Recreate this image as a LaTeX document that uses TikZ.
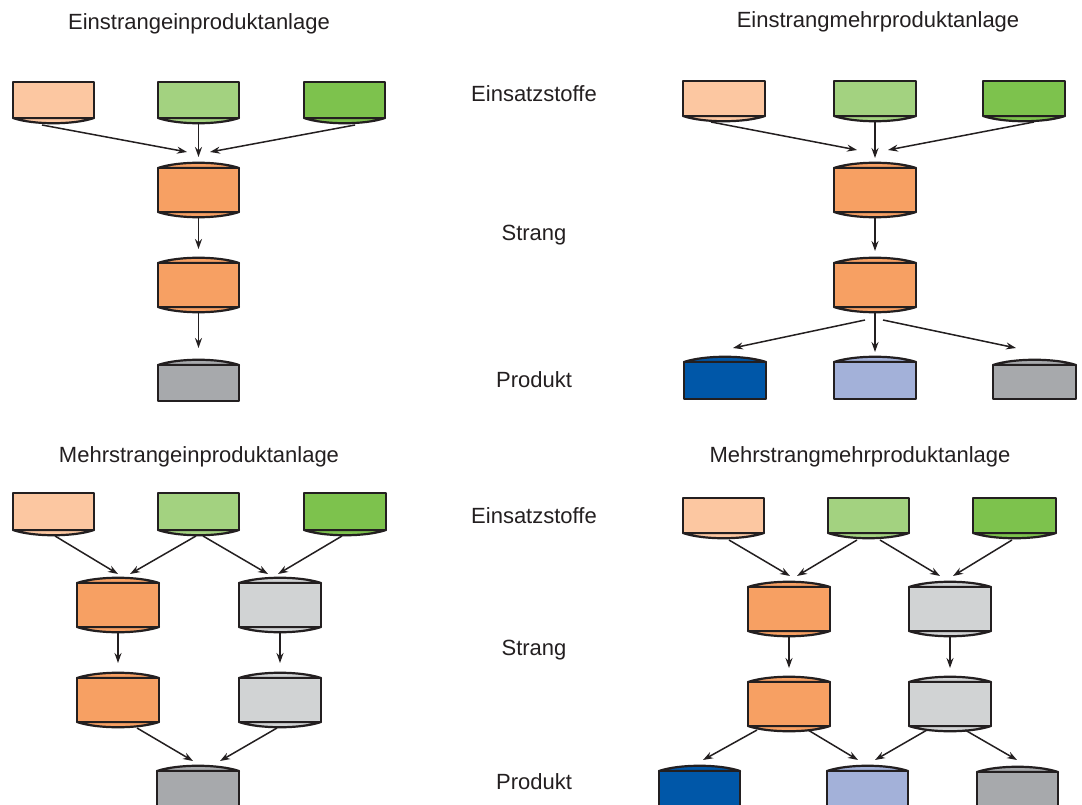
\documentclass[tikz,border=0pt]{standalone}
\usepackage{fontspec}
\setmainfont{Liberation Sans}
\usetikzlibrary{arrows.meta,calc}

\definecolor{ink}{HTML}{231F20}
\definecolor{peach}{HTML}{FCC7A1}
\definecolor{lightgreen}{HTML}{A3D280}
\definecolor{leafgreen}{HTML}{7DC24D}
\definecolor{strangorange}{HTML}{F7A063}
\definecolor{lightgray}{HTML}{D1D3D4}
\definecolor{prodgray}{HTML}{A7A9AC}
\definecolor{darkblue}{HTML}{0057A8}
\definecolor{lightblue}{HTML}{A3B1D9}

% feed tank: box with a curved bottom
% #1 name, #2 left, #3 right, #4 top, #5 bottom, #6 fill
\newcommand\feedtank[6]{%
  \path[tankline, fill=#6] (#2,#5) .. controls ({#2+0.25*(#3-#2)},{#5+7}) and ({#3-0.25*(#3-#2)},{#5+7}) .. (#3,#5) -- cycle;
  \node[tankbody, fill=#6, minimum width={(#3-#2)*1pt}, minimum height={(#5-#4)*1pt}] (#1) at ({(#2+#3)/2},{(#4+#5)/2}) {};
}
% line tank: curved top and bottom
\newcommand\strangtank[6]{%
  \path[tankline, fill=#6] (#2,#4) .. controls ({#2+0.25*(#3-#2)},{#4-7}) and ({#3-0.25*(#3-#2)},{#4-7}) .. (#3,#4) -- cycle;
  \path[tankline, fill=#6] (#2,#5) .. controls ({#2+0.25*(#3-#2)},{#5+7}) and ({#3-0.25*(#3-#2)},{#5+7}) .. (#3,#5) -- cycle;
  \node[tankbody, fill=#6, minimum width={(#3-#2)*1pt}, minimum height={(#5-#4)*1pt}] (#1) at ({(#2+#3)/2},{(#4+#5)/2}) {};
}
% product tank: curved top
\newcommand\producttank[6]{%
  \path[tankline, fill=#6] (#2,#4) .. controls ({#2+0.25*(#3-#2)},{#4-7}) and ({#3-0.25*(#3-#2)},{#4-7}) .. (#3,#4) -- cycle;
  \node[tankbody, fill=#6, minimum width={(#3-#2)*1pt}, minimum height={(#5-#4)*1pt}] (#1) at ({(#2+#3)/2},{(#4+#5)/2}) {};
}

\begin{document}
\begin{tikzpicture}[x=1pt, y=-1pt,
  tankline/.style={draw=ink, line width=2.2pt, line join=round},
  tankbody/.style={tankline, rectangle, inner sep=0pt, outer sep=0pt},
  flow/.style={draw=ink, line width=1.5pt, -{Stealth[length=10pt, width=7pt]}},
  rowtext/.style={text=ink, inner sep=0pt, anchor=base, font=\fontsize{22}{26}\selectfont},
  paneltitle/.style={rowtext}]
\useasboundingbox (0,0) rectangle (1082,805);

% ---------- titles and row labels ----------
\node[paneltitle] (t-tl) at (199,30) {Einstrangeinproduktanlage};
\node[paneltitle] (t-tr) at (878,28) {Einstrangmehrproduktanlage};
\node[paneltitle] (t-bl) at (199,462) {Mehrstrangeinproduktanlage};
\node[paneltitle] (t-br) at (860,462) {Mehrstrangmehrproduktanlage};

\node[rowtext] (l-e1) at (534,102) {Einsatzstoffe};
\node[rowtext] (l-s1) at (534,241) {Strang};
\node[rowtext] (l-p1) at (534,387) {Produkt};
\node[rowtext] (l-e2) at (534,523) {Einsatzstoffe};
\node[rowtext] (l-s2) at (534,655) {Strang};
\node[rowtext] (l-p2) at (534,789) {Produkt};

% ---------- single line, single product ----------
\feedtank{a1}{13}{94}{82}{118}{peach}
\feedtank{a2}{158}{239}{82}{118}{lightgreen}
\feedtank{a3}{304}{385}{82}{118}{leafgreen}
\strangtank{s1}{158}{239}{168}{212}{strangorange}
\strangtank{s2}{158}{239}{263}{307}{strangorange}
\producttank{p1}{158}{239}{365}{401}{prodgray}

\draw[flow] ($(a1.south)+(-11.5,7)$) -- ($(s1.north)+(-11.5,-16)$);
\draw[flow] ($(a2.south)+(0,6)$) -- ($(s1.north)+(0,-11)$);
\draw[flow] ($(a3.south)+(10.5,7)$) -- ($(s1.north)+(11.5,-16)$);
\draw[flow] ($(s1.south)+(0,6)$) -- ($(s2.north)+(0,-14)$);
\draw[flow] ($(s2.south)+(0,6)$) -- ($(p1.north)+(0,-17)$);

% ---------- single line, multiple products ----------
\feedtank{b1}{683}{765}{81}{116}{peach}
\feedtank{b2}{834}{916}{81}{116}{lightgreen}
\feedtank{b3}{983}{1065}{81}{116}{leafgreen}
\strangtank{t1}{834}{916}{168}{212}{strangorange}
\strangtank{t2}{834}{916}{263}{307}{strangorange}
\producttank{q1}{684}{766}{362}{399}{darkblue}
\producttank{q2}{834}{916}{362}{399}{lightblue}
\producttank{q3}{993}{1076}{365}{399}{prodgray}

\draw[flow] ($(b1.south)+(-13,6)$) -- ($(t1.north)+(-18,-18)$);
\draw[flow] ($(b2.south)+(0,6)$) -- ($(t1.north)+(0,-10)$);
\draw[flow] ($(b3.south)+(10,6)$) -- ($(t1.north)+(13,-18)$);
\draw[flow] ($(t1.south)+(0,6)$) -- ($(t2.north)+(0,-12)$);
\draw[flow] ($(t2.south)+(-10,13)$) -- ($(q1.north)+(8,-14)$);
\draw[flow] ($(t2.south)+(0,6)$) -- ($(q2.north)+(0,-10)$);
\draw[flow] ($(t2.south)+(8,13)$) -- ($(q3.north)+(-18.5,-17)$);

% ---------- multiple lines, single product ----------
\feedtank{c1}{13}{94}{493}{530}{peach}
\feedtank{c2}{158}{239}{493}{530}{lightgreen}
\feedtank{c3}{304}{386}{493}{530}{leafgreen}
\strangtank{u1}{77}{159}{583}{627}{strangorange}
\strangtank{u2}{239}{321}{583}{627}{lightgray}
\strangtank{u3}{77}{159}{678}{722}{strangorange}
\strangtank{u4}{239}{321}{678}{722}{lightgray}
\producttank{r1}{157}{239}{771}{812}{prodgray}

\draw[flow] ($(c1.south)+(1.5,6)$) -- ($(u1.north)+(0,-9)$);
\draw[flow] ($(c2.south)+(-2.5,6)$) -- ($(u1.north)+(12,-9)$);
\draw[flow] ($(c2.south)+(4.5,6)$) -- ($(u2.north)+(-12,-9)$);
\draw[flow] ($(c3.south)+(-3,6)$) -- ($(u2.north)+(-2,-9)$);
\draw[flow] ($(u1.south)+(0,6)$) -- ($(u3.north)+(0,-15)$);
\draw[flow] ($(u2.south)+(0,6)$) -- ($(u4.north)+(0,-15)$);
\draw[flow] ($(u3.south)+(19,6)$) -- ($(r1.north)+(-5,-10)$);
\draw[flow] ($(u4.south)+(-3,6)$) -- ($(r1.north)+(22,-10)$);

% ---------- multiple lines, multiple products ----------
\feedtank{d1}{683}{764}{498}{533}{peach}
\feedtank{d2}{828}{909}{498}{533}{lightgreen}
\feedtank{d3}{973}{1056}{498}{533}{leafgreen}
\strangtank{v1}{748}{830}{587}{631}{strangorange}
\strangtank{v2}{909}{991}{587}{631}{lightgray}
\strangtank{v3}{748}{830}{682}{726}{strangorange}
\strangtank{v4}{909}{991}{682}{726}{lightgray}
\producttank{w1}{659}{740}{771}{812}{darkblue}
\producttank{w2}{827}{908}{771}{812}{lightblue}
\producttank{w3}{977}{1058}{772}{812}{prodgray}

\draw[flow] ($(d1.south)+(5.5,7)$) -- ($(v1.north)+(1,-11)$);
\draw[flow] ($(d2.south)+(-11.5,7)$) -- ($(v1.north)+(8,-11)$);
\draw[flow] ($(d2.south)+(11.5,7)$) -- ($(v2.north)+(-10,-11)$);
\draw[flow] ($(d3.south)+(-2.5,7)$) -- ($(v2.north)+(3,-11)$);
\draw[flow] ($(v1.south)+(0,6)$) -- ($(v3.north)+(0,-14)$);
\draw[flow] ($(v2.south)+(0,6)$) -- ($(v4.north)+(0,-14)$);
\draw[flow] ($(v3.south)+(-32,4)$) -- ($(w1.north)+(3.5,-11)$);
\draw[flow] ($(v3.south)+(19,4)$) -- ($(w2.north)+(-9.5,-11)$);
\draw[flow] ($(v4.south)+(-23,4)$) -- ($(w2.north)+(7.5,-11)$);
\draw[flow] ($(v4.south)+(15,4)$) -- ($(w3.north)+(-0.5,-12)$);
\end{tikzpicture}
\end{document}
